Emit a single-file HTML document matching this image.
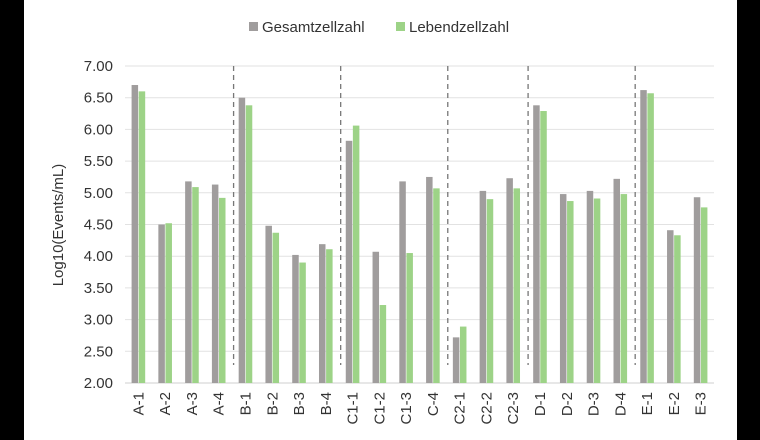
<!DOCTYPE html>
<html><head><meta charset="utf-8"><style>
html,body{margin:0;padding:0;background:#000;}
svg{display:block;font-family:"Liberation Sans",sans-serif;}
</style></head><body>
<svg width="760" height="440" xmlns="http://www.w3.org/2000/svg">
<rect x="24" y="0" width="713" height="440" fill="#ffffff"/>
<g id="grid"></g><g id="dividers"></g><g id="bars"></g><g id="yticks"></g><g id="xticks"></g>
<text x="63" y="225" transform="rotate(-90 63 225)" text-anchor="middle" font-size="15" fill="#333">Log10(Events/mL)</text>
<g>
<rect x="249" y="22" width="9" height="9" fill="#a09d9d"/>
<text x="262" y="32" font-size="15" fill="#333">Gesamtzellzahl</text>
<rect x="396" y="22" width="9" height="9" fill="#9dd387"/>
<text x="409" y="32" font-size="15" fill="#333">Lebendzellzahl</text>
</g>
</svg>
<script>
const categories=["A-1","A-2","A-3","A-4","B-1","B-2","B-3","B-4","C1-1","C1-2","C1-3","C-4","C2-1","C2-2","C2-3","D-1","D-2","D-3","D-4","E-1","E-2","E-3"];
const gesamt=[6.70,4.50,5.18,5.13,6.50,4.48,4.02,4.19,5.82,4.07,5.18,5.25,2.72,5.03,5.23,6.38,4.98,5.03,5.22,6.62,4.41,4.93];
const lebend=[6.60,4.52,5.09,4.92,6.38,4.37,3.90,4.11,6.06,3.23,4.05,5.07,2.89,4.90,5.07,6.29,4.87,4.91,4.98,6.57,4.33,4.77];
const yTicks=[2,2.5,3,3.5,4,4.5,5,5.5,6,6.5,7];
const dividerAfter=[4,8,12,15,19];
const NS="http://www.w3.org/2000/svg";
const X0=125,X1=714,Y0=383,Y1=66,yMin=2,yMax=7;
const band=(X1-X0)/categories.length;
function y(v){return Y0-(v-yMin)/(yMax-yMin)*(Y0-Y1);}
function x(i){return X0+i*band;}
function mk(tag,attrs,parent){const e=document.createElementNS(NS,tag);for(const k in attrs)e.setAttribute(k,attrs[k]);document.getElementById(parent).appendChild(e);return e;}
yTicks.forEach(t=>{
  const l=mk('line',{x1:X0,x2:X1,y1:y(t),y2:y(t),stroke:t===2?'#cfcfcf':'#e2e2e2','stroke-width':1},'grid');
  
  
  const tx=mk('text',{x:113,y:y(t)+5,'text-anchor':'end','font-size':15,fill:'#333'},'yticks');
  tx.textContent=t.toFixed(2);
  
  
});
dividerAfter.forEach(d=>{
  const l=mk('line',{x1:x(d)+1.5,x2:x(d)+1.5,y1:Y1,y2:365,stroke:'#777','stroke-width':1.3,'stroke-dasharray':'5,4'},'dividers');
  
  
});
const bw=6.5;
categories.forEach((c,i)=>{
  const cx=x(i)+band/2;
  const g=mk('rect',{x:cx-bw-0.3,y:y(gesamt[i]),width:bw,height:Y0-y(gesamt[i]),fill:'#a09d9d'},'bars');
  
  
  const gr=mk('rect',{x:cx+0.3,y:y(lebend[i]),width:bw,height:Y0-y(lebend[i]),fill:'#9dd387'},'bars');
  
  
  const t=mk('text',{x:cx+5,y:392,'text-anchor':'end','font-size':15,fill:'#333',transform:'rotate(-90 '+(cx+5)+' 392)'},'xticks');
  t.textContent=c;
  
  
});
</script>
</body></html>
